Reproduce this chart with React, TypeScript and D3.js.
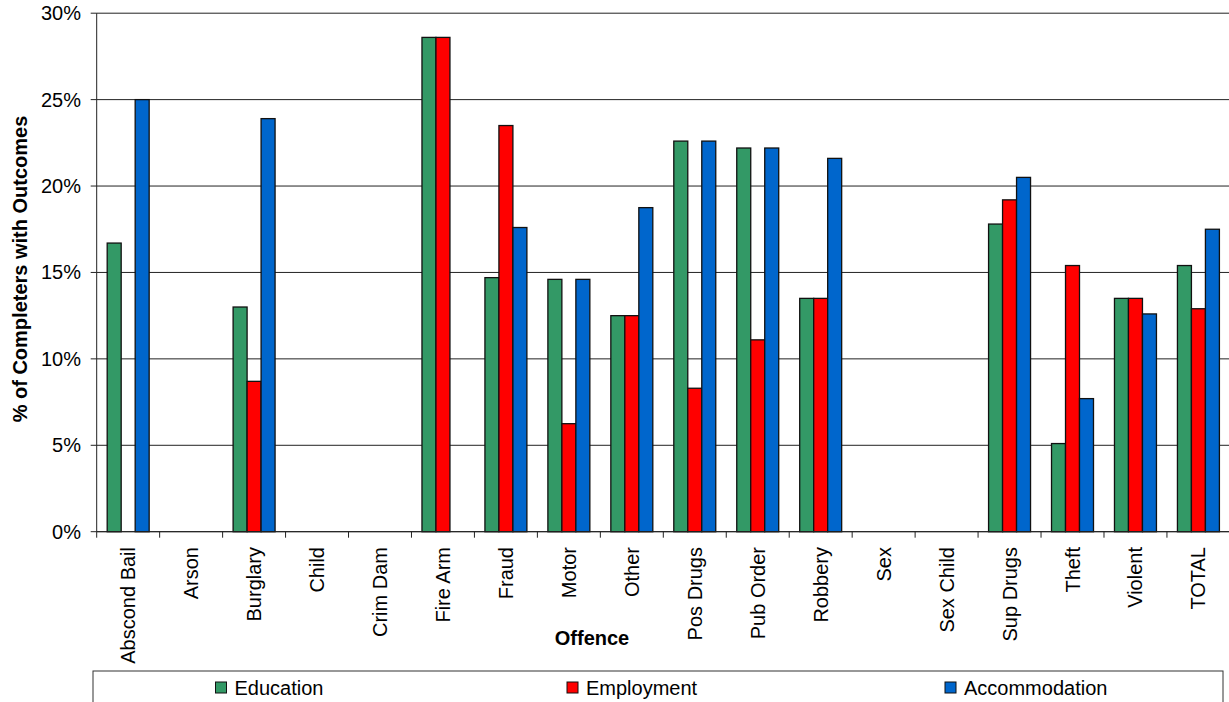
import React from "react";
import * as d3 from "d3";

const categories = ["Abscond Bail", "Arson", "Burglary", "Child", "Crim Dam", "Fire Arm", "Fraud", "Motor", "Other", "Pos Drugs", "Pub Order", "Robbery", "Sex", "Sex Child", "Sup Drugs", "Theft", "Violent", "TOTAL"];
const education = [16.7, 0, 13.0, 0, 0, 28.6, 14.7, 14.6, 12.5, 22.6, 22.2, 13.5, 0, 0, 17.8, 5.1, 13.5, 15.4];
const employment = [0, 0, 8.7, 0, 0, 28.6, 23.5, 6.25, 12.5, 8.3, 11.1, 13.5, 0, 0, 19.2, 15.4, 13.5, 12.9];
const accommodation = [25.0, 0, 23.9, 0, 0, 0, 17.6, 14.6, 18.75, 22.6, 22.2, 21.6, 0, 0, 20.5, 7.7, 12.6, 17.5];
const seriesNames = ["Education", "Employment", "Accommodation"];
const seriesColors = ["#339966", "#FF0000", "#0066CC"];
const yTicks = [0, 5, 10, 15, 20, 25, 30];

const FONT = "Arial, 'Liberation Sans', Helvetica, sans-serif";

export default function App() {
  const W = 1229, H = 702;
  const left = 96.7, right = 1229.9, top = 13.2, bottom = 531.7;
  const series = [education, employment, accommodation];

  const x = d3.scaleBand<string>().domain(categories).range([left, right]).paddingInner(0).paddingOuter(0);
  const xs = d3.scaleBand<string>().domain(seriesNames).range([0, x.bandwidth()]).paddingInner(0).paddingOuter(0.75);
  const y = d3.scaleLinear().domain([0, 30]).range([bottom, top]);

  const fs = 20;
  const boundaries = categories.map((c) => x(c)!).concat([right]);
  const legendX = [215.5, 567, 945];

  return (
    <svg width={W} height={H} style={{ position: "absolute", left: 0, top: 0, background: "#fff" }} fontFamily={FONT}>
      {yTicks.map((t) => (
        <line key={"g" + t} x1={left} x2={right} y1={y(t)} y2={y(t)} stroke="#222" strokeWidth={1} />
      ))}
      {yTicks.map((t) => (
        <g key={"t" + t}>
          <line x1={left - 6} x2={left} y1={y(t)} y2={y(t)} stroke="#222" />
          <text x={81} y={y(t)} dy="0.35em" textAnchor="end" fontSize={fs} fill="#000">{t + "%"}</text>
        </g>
      ))}
      {series.map((vals, si) =>
        vals.map((v, ci) =>
          v > 0 ? (
            <rect
              key={si + "-" + ci}
              x={x(categories[ci])! + xs(seriesNames[si])!}
              y={y(v)}
              width={xs.bandwidth()}
              height={y(0) - y(v)}
              fill={seriesColors[si]}
              stroke="#111"
              strokeWidth={1.3}
            />
          ) : null
        )
      )}
      <line x1={left} x2={left} y1={top} y2={bottom} stroke="#222" />
      <line x1={left} x2={right} y1={bottom} y2={bottom} stroke="#222" />
      {boundaries.map((b, i) => (
        <line key={"b" + i} x1={b} x2={b} y1={bottom} y2={bottom + 6} stroke="#222" />
      ))}
      {categories.map((c) => {
        const cx = x(c)! + x.bandwidth() / 2;
        const cy = 547;
        return (
          <text key={c} transform={`translate(${cx},${cy}) rotate(-90)`} dy="0.35em" textAnchor="end" fontSize={fs} fill="#000">
            {c}
          </text>
        );
      })}
      <text x={592} y={645} textAnchor="middle" fontSize={fs} fontWeight="bold" fill="#000">Offence</text>
      <text transform={`translate(20,269) rotate(-90)`} dy="0.35em" textAnchor="middle" fontSize={fs} fontWeight="bold" fill="#000">
        % of Completers with Outcomes
      </text>
      <rect x={93} y={671} width={1130} height={60} fill="#fff" stroke="#333" strokeWidth={1} />
      {seriesNames.map((n, i) => {
        const lx = legendX[i];
        return (
          <g key={n}>
            <rect x={lx} y={682} width={11} height={11} fill={seriesColors[i]} stroke="#111" strokeWidth={1} />
            <text x={lx + 19} y={695} fontSize={fs} fill="#000">{n}</text>
          </g>
        );
      })}
    </svg>
  );
}
